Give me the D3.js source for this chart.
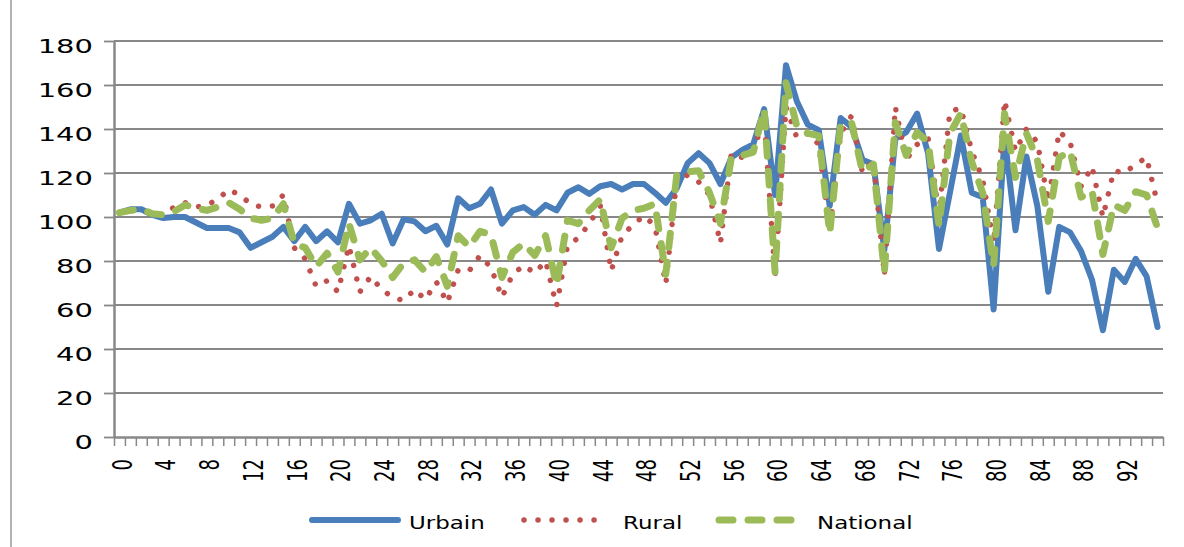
<!DOCTYPE html>
<html>
<head>
<meta charset="utf-8">
<script src="https://cdn.jsdelivr.net/npm/d3@7"></script>
<style>
  body { margin: 0; background: #fff; }
  text { font-family: "DejaVu Sans", Verdana, sans-serif; fill: #000; }
</style>
</head>
<body>
<div id="chart"></div>
<script>
// categories 0..95
var categories = d3.range(96);

var urbain = [102,103.5,103.5,101,99.5,100,100,97.5,95,95,
  95,93,86,88.5,91,95.5,89,95.5,89,93.5,
  88.5,106,97,98.5,101.5,88,99,98,93.5,96,
  87.5,108.5,104,106,112.5,97,103,104.5,101,105.5,
  103,111,113.5,110.5,114,115,112.5,115,115,111,
  106.5,113,124.5,129,124.5,115,127,130.5,133,149,
  110,169,152.5,142,139.5,105,145,141,126,124,
  85,135.5,138.5,147,129,85.5,111,137,111,109,
  58,136.5,94,127.5,105,66,95.5,93,84.5,71.5,
  48.5,76,70.5,81,73,50];

var rural = [102,103,103,101.5,101,104.5,106.5,104.5,105.5,108,
  112.5,110,106,104.5,105,110,86,81,68.5,71,
  66,87,66,73,67,63.5,62,67,62.5,70.5,
  61,76,75.5,82.5,77,63.5,74,78,74.5,80,
  59.5,87,90.5,97,105,75.5,91.5,96.5,100.5,96,
  69.5,117,119,116,110,88,129,127,130,145,
  73,150,136,138,133,93,138,146,120,126,
  73.5,150,126,133,136,102,148,149.5,130,117,
  88,153,130,140,134,107,139,134,114,123,
  100,121,120,124,127,106];

var national = [102,103,103.5,101.5,101,102.5,105.5,104,103,104.5,
  106.5,103.5,99.5,98.5,99.5,106,88,86,77.5,83.5,
  75,97,80.5,86,80,72.5,79,80.5,75,82,
  68.5,91.5,86.5,93.5,92,72.5,84,88,82.5,91.5,
  69,98.5,97,103,108,86,99.5,103,104,106,
  74,119,120.5,121,111,97,127,128,129.5,149,
  75,161,141,138,137,92.5,142,143,120.5,124,
  75,143,128,138.5,134,96,138,147,125,111,
  78,147,118,138,126,98,127,130,109,112,
  83,105.5,103,111.5,110,95];

var yTicks = [0,20,40,60,80,100,120,140,160,180];
var xLabels = categories.filter(function (d) { return d % 4 === 0; });

var seriesNames = ['Urbain', 'Rural', 'National'];
var seriesColors = ['#4a7ebb', '#c0504d', '#9bbb59'];

var W = 1184, H = 547;
var plotLeft = 114, plotRight = 1163, plotTop = 41, plotBottom = 437;
var grey = '#888888';

var svg = d3.select('#chart').append('svg')
  .attr('width', W)
  .attr('height', H);

var x = d3.scalePoint().domain(categories).range([plotLeft, plotRight]).padding(0.5);
var xb = d3.scaleLinear().domain([0, categories.length]).range([plotLeft, plotRight]);
var y = d3.scaleLinear().domain([0, 180]).range([plotBottom, plotTop]);

// outer frame (left edge visible)
svg.append('line')
  .attr('x1', 11).attr('x2', 11).attr('y1', 0).attr('y2', H)
  .attr('stroke', '#9a9a9a').attr('stroke-width', 1.5);

// gridlines
svg.append('g').selectAll('line').data(yTicks.filter(function (d) { return d > 0; }))
  .enter().append('line')
  .attr('x1', plotLeft).attr('x2', plotRight)
  .attr('y1', function (d) { return y(d); })
  .attr('y2', function (d) { return y(d); })
  .attr('stroke', grey).attr('stroke-width', 1.8);

// y axis
var yAxis = svg.append('g')
  .attr('transform', 'translate(' + plotLeft + ',0)')
  .call(d3.axisLeft(y).tickValues(yTicks).tickSize(10).tickSizeOuter(0).tickFormat(''));
yAxis.selectAll('line').attr('stroke', grey).attr('stroke-width', 1.8);
yAxis.select('.domain').attr('stroke', grey).attr('stroke-width', 2.5);

svg.append('g').selectAll('text').data(yTicks)
  .enter().append('text')
  .attr('text-anchor', 'end')
  .attr('font-size', 20)
  .attr('transform', function (d) { return 'translate(93,' + (y(d) + 12) + ') scale(1.45,1)'; })
  .text(function (d) { return d; });

// x axis
var xAxis = svg.append('g')
  .attr('transform', 'translate(0,' + plotBottom + ')')
  .call(d3.axisBottom(xb).tickValues(d3.range(categories.length + 1)).tickSize(9).tickSizeOuter(0).tickFormat(''));
xAxis.selectAll('line').attr('stroke', grey).attr('stroke-width', 1.5);
xAxis.select('.domain').attr('stroke', grey).attr('stroke-width', 2.5);

svg.append('g').selectAll('text').data(xLabels)
  .enter().append('text')
  .attr('text-anchor', 'end')
  .attr('dominant-baseline', 'central')
  .attr('font-size', 18)
  .attr('transform', function (d) {
    return 'translate(' + (x(d) + 3) + ',459) scale(1.45,1) rotate(-90)';
  })
  .text(function (d) { return d; });

// series
var line = d3.line()
  .x(function (d, i) { return x(categories[i]); })
  .y(function (d) { return y(d); });

function styleSeries(sel, k) {
  sel.attr('fill', 'none')
    .attr('stroke', seriesColors[k])
    .attr('stroke-linejoin', 'round')
    .attr('stroke-linecap', 'round');
  if (k === 0) sel.attr('stroke-width', 6);
  if (k === 1) sel.attr('stroke-width', 5.5).attr('stroke-dasharray', '0.01 14');
  if (k === 2) sel.attr('stroke-width', 7).attr('stroke-dasharray', '14 15');
}

[urbain, rural, national].forEach(function (data, k) {
  svg.append('path').datum(data).attr('d', line).call(styleSeries, k);
});

// legend
var legendItems = [
  { x1: 312, x2: 398, tx: 409 },
  { x1: 524, x2: 600, tx: 623 },
  { x1: 719, x2: 797, tx: 817 }
];
var legend = svg.append('g');
legendItems.forEach(function (it, k) {
  legend.append('line')
    .attr('x1', it.x1).attr('x2', it.x2).attr('y1', 520).attr('y2', 520)
    .call(styleSeries, k);
  legend.append('text')
    .attr('font-size', 17)
    .attr('transform', 'translate(' + it.tx + ',529) scale(1.35,1)')
    .text(seriesNames[k]);
});
</script>
</body>
</html>
